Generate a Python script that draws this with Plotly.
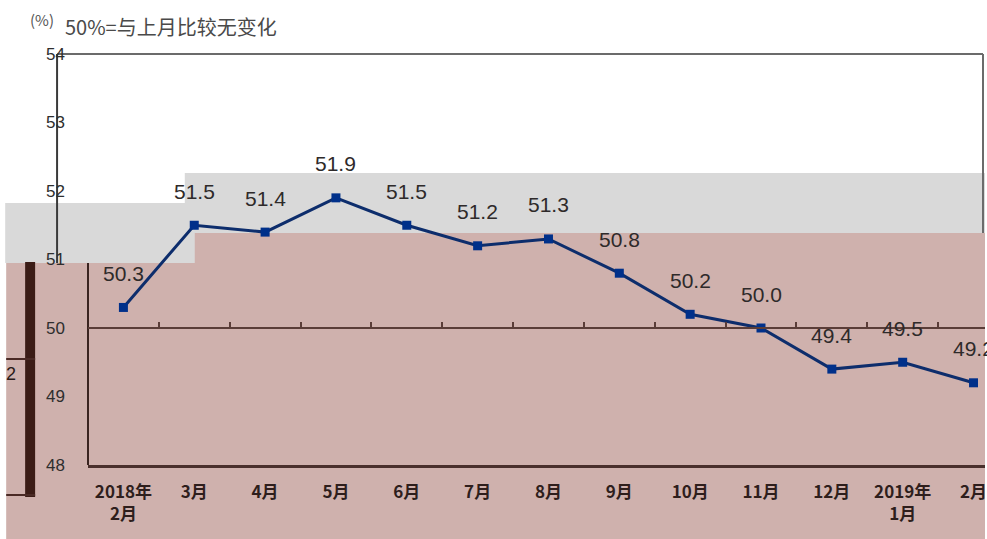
import plotly.graph_objects as go

# ---- data ----
months = ["2018年<br>2月", "3月", "4月", "5月", "6月", "7月", "8月", "9月",
          "10月", "11月", "12月", "2019年<br>1月", "2月"]
values = [50.3, 51.5, 51.4, 51.9, 51.5, 51.2, 51.3, 50.8, 50.2, 50.0, 49.4, 49.5, 49.2]
y_ticks = [48, 49, 50, 51, 52, 53, 54]
unit_label = "(%)"
note_label = "50%=与上月比较无变化"

W, H = 987, 539
L, R, T, B = 88, 0, 54, 74
PW, PH = W - L - R, H - T - B


def px(x):
    return (x - L) / PW


def py(y):
    return (H - B - y) / PH


PINK = "rgb(207,177,173)"
GRAY = "rgb(217,217,217)"

fig = go.Figure()

fig.add_trace(go.Scatter(
    x=months, y=values, mode="lines+markers",
    line=dict(color="#0d2d6c", width=3),
    marker=dict(symbol="square", size=9, color="#00308a"),
    hoverinfo="x+y", showlegend=False,
))
# helper trace for the category axis crossing at 50
fig.add_trace(go.Scatter(
    x=list(range(len(values))), y=values, xaxis="x2", mode="lines",
    line=dict(width=0), opacity=0, hoverinfo="skip", showlegend=False,
))

annotations = []
for m, v in zip(months, values):
    annotations.append(dict(
        x=m, y=v, xref="x", yref="y", text=f"{v:.1f}", showarrow=False,
        yshift=34, font=dict(family="Liberation Sans, Arial", size=21, color="#2e2a2a"),
    ))
annotations.append(dict(
    x=px(28), y=py(19), xref="paper", yref="paper", xanchor="left", yanchor="middle",
    text=unit_label, showarrow=False,
    font=dict(family="Noto Sans CJK SC", size=15, color="#555"),
))
annotations.append(dict(
    x=px(63), y=py(26), xref="paper", yref="paper", xanchor="left", yanchor="middle",
    text=note_label, showarrow=False,
    font=dict(family="Noto Sans CJK SC", size=20, color="#4a4a4a"),
))
annotations.append(dict(
    x=px(4), y=py(374), xref="paper", yref="paper", xanchor="left", yanchor="middle",
    text="2", showarrow=False,
    font=dict(family="Liberation Sans", size=18, color="#2a1a18"),
))

shapes = []


def rect(x0, y0, x1, y1, color):
    shapes.append(dict(type="rect", xref="paper", yref="paper",
                       x0=px(x0), x1=px(x1), y0=py(y1), y1=py(y0),
                       fillcolor=color, line=dict(width=0), layer="below"))


def seg(x0, y0, x1, y1, color, w=2):
    shapes.append(dict(type="line", xref="paper", yref="paper",
                       x0=px(x0), x1=px(x1), y0=py(y0), y1=py(y1),
                       line=dict(color=color, width=w), layer="below"))


rect(5, 203, 198, 263, GRAY)
rect(185, 173, 987, 233, GRAY)
rect(6, 263, 987, 539, PINK)
rect(195, 233, 987, 263, PINK)
# frame pieces
seg(57, 54, 985, 54, "#6b6b6b")
seg(985, 54, 985, 233, "#6b6b6b")
seg(57, 54, 57, 263, "#3a3a3a")
seg(88, 263, 88, 465, "#3a2420")
# dark bar artefact on the left
rect(25, 262, 35, 497, "#3b1c16")
seg(6, 359, 35, 359, "#4a2a25")
seg(6, 495, 35, 495, "#4a2a25")

n = len(months)
xr = [-0.5, -0.5 + PW / 71.0]

fig.update_layout(
    width=W, height=H,
    margin=dict(l=L, r=R, t=T, b=B),
    paper_bgcolor="white", plot_bgcolor="rgba(0,0,0,0)",
    shapes=shapes, annotations=annotations,
    xaxis=dict(type="category", categoryorder="array", categoryarray=months,
               range=xr, showgrid=False, zeroline=False,
               showline=True, linecolor="#4a302c", linewidth=2.5,
               ticks="", ticklabelstandoff=10,
               tickfont=dict(family="Noto Sans CJK SC", size=17, color="#2e1e1c",
                             weight="bold")),
    xaxis2=dict(overlaying="x", anchor="free", position=py(328), range=xr,
                showgrid=False, zeroline=False, showline=True,
                linecolor="#5a3d38", linewidth=2,
                tickvals=[i + 0.5 for i in range(n - 1)], ticks="inside",
                ticklen=5, tickwidth=1.5, tickcolor="#5a3d38",
                showticklabels=False),
    yaxis=dict(range=[y_ticks[0], y_ticks[-1]], tickvals=y_ticks,
               showgrid=False, zeroline=False, showline=False, ticks="",
               ticklabelstandoff=22,
               tickfont=dict(family="Liberation Sans", size=17, color="#2e2e2e")),
    hovermode="closest",
)

fig.write_html("out.html", config={"displayModeBar": False},
               post_script="document.body.style.margin='0px';")
